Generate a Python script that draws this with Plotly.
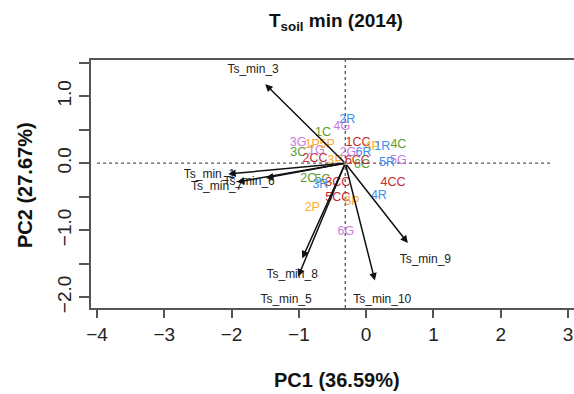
import plotly.graph_objects as go

# ---- data ----
origin = (-0.31, 0.0)
var_names = ["Ts_min_3", "Ts_min_1", "Ts_min_7", "Ts_min_6", "Ts_min_8", "Ts_min_5", "Ts_min_10", "Ts_min_9"]
var_head_x = [-1.50, -2.05, -1.92, -1.49, -0.95, -1.01, 0.13, 0.62]
var_head_y = [1.18, -0.16, -0.28, -0.22, -1.42, -1.69, -1.75, -1.19]
var_lab_x = [-1.68, -2.33, -2.22, -1.74, -1.10, -1.19, 0.24, 0.88]
var_lab_y = [1.39, -0.18, -0.35, -0.28, -1.67, -2.04, -2.04, -1.45]

sample_names = ["1C", "2C", "3C", "4C", "5C", "6C",
                "1CC", "2CC", "3CC", "4CC", "5CC", "6CC",
                "1G", "2G", "3G", "4G", "5G", "6G",
                "1P", "2P", "3P", "4P", "5P", "6P",
                "1R", "2R", "3R", "4R", "5R", "6R"]
sample_x = [-0.64, -0.86, -1.01, 0.48, -0.65, -0.06,
            -0.12, -0.76, -0.42, 0.40, -0.42, -0.13,
            -0.74, -0.27, -1.01, -0.36, 0.48, -0.30,
            -0.80, -0.80, -0.46, 0.09, -0.58, -0.21,
            0.24, -0.28, -0.68, 0.19, 0.31, -0.04]
sample_y = [0.46, -0.24, 0.15, 0.27, -0.25, -0.03,
            0.30, 0.07, -0.30, -0.30, -0.51, 0.04,
            0.19, 0.16, 0.31, 0.54, 0.04, -1.03,
            0.28, -0.67, 0.04, 0.25, 0.28, -0.58,
            0.24, 0.64, -0.33, -0.48, 0.01, 0.16]
group_colors = {"C": "#5f9a2c", "CC": "#c42a2e", "G": "#c87ddc", "P": "#ffaa2e", "R": "#3f8cf2"}

x_ticks = [-4, -3, -2, -1, 0, 1, 2, 3]
y_ticks = [1.5, 1.0, 0.5, 0.0, -0.5, -1.0, -1.5, -2.0]
y_ticklabels = ["", "1.0", "", "0.0", "", "\u22121.0", "", "\u22122.0"]

FONT = "Liberation Sans, Arial, sans-serif"
xr = [-4.09, 3.09]
yr = [-2.16, 1.54]

def grp(n):
    return n.lstrip("0123456789")

fig = go.Figure()

# dotted reference lines
fig.add_trace(go.Scatter(x=[-4.0, 2.78], y=[0, 0], mode="lines",
                         line=dict(color="#555", width=1.3, dash="dot"),
                         hoverinfo="skip", showlegend=False))
fig.add_trace(go.Scatter(x=[origin[0], origin[0]], y=[yr[0], yr[1]], mode="lines",
                         line=dict(color="#555", width=1.3, dash="dot"),
                         hoverinfo="skip", showlegend=False))

# sample labels
fig.add_trace(go.Scatter(x=sample_x, y=sample_y, mode="text", text=sample_names,
                         textfont=dict(family=FONT, size=12.5,
                                       color=[group_colors[grp(n)] for n in sample_names]),
                         hoverinfo="skip", showlegend=False))

annotations = []
for hx, hy in zip(var_head_x, var_head_y):
    annotations.append(dict(x=hx, y=hy, ax=origin[0], ay=origin[1], xref="x", yref="y",
                            axref="x", ayref="y", showarrow=True, arrowhead=2,
                            arrowsize=1, arrowwidth=1.5, arrowcolor="#111", text=""))
fig.add_trace(go.Scatter(x=var_lab_x, y=var_lab_y, mode="text", text=var_names,
                         textfont=dict(family=FONT, size=12, color="#222"),
                         hoverinfo="skip", showlegend=False))

annotations += [
    dict(text="<b>T<sub>soil</sub> min (2014)</b>", x=0.507, y=1.153, xref="paper", yref="paper",
         showarrow=False, font=dict(family=FONT, size=19, color="#111"), xanchor="center", yanchor="middle"),
    dict(text="<b>PC1 (36.59%)</b>", x=(337 - 91) / 483, y=(308 - 380) / 248, xref="paper", yref="paper",
         showarrow=False, font=dict(family=FONT, size=20, color="#111"), xanchor="center", yanchor="middle"),
    dict(text="<b>PC2 (27.67%)</b>", x=(25 - 91) / 483, y=(308 - 185) / 248, xref="paper", yref="paper",
         showarrow=False, textangle=-90, font=dict(family=FONT, size=20, color="#111"),
         xanchor="center", yanchor="middle"),
]

fig.update_layout(
    width=574, height=394,
    margin=dict(l=91, r=0, t=60, b=86),
    paper_bgcolor="white", plot_bgcolor="white",
    annotations=annotations,
    xaxis=dict(range=xr, tickvals=x_ticks, ticktext=[str(v).replace("-", "\u2212") for v in x_ticks],
               showgrid=False, zeroline=False, showline=True, linecolor="#555", linewidth=2,
               mirror=True, ticks="outside", ticklen=8, tickwidth=2, tickcolor="#555",
               tickfont=dict(family=FONT, size=19, color="#222")),
    yaxis=dict(range=yr, tickvals=y_ticks, ticktext=y_ticklabels, tickangle=-90,
               showgrid=False, zeroline=False, showline=True, linecolor="#555", linewidth=2,
               ticks="outside", ticklen=10, tickwidth=2, tickcolor="#555",
               tickfont=dict(family=FONT, size=19, color="#222")),
)

fig.write_html("out.html")
